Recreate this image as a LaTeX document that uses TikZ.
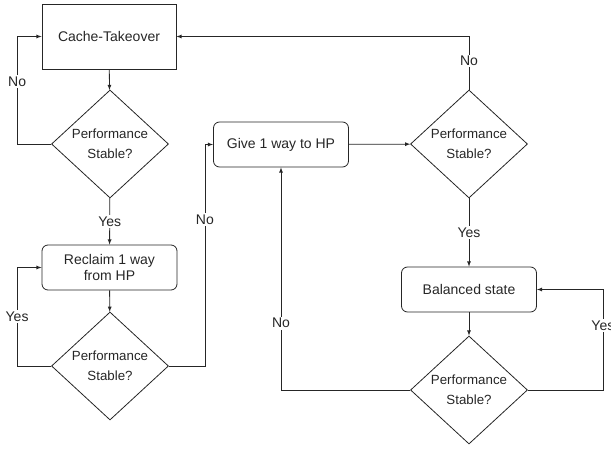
\documentclass[tikz,border=0pt]{standalone}
\usepackage{fontspec}
\setmainfont{Liberation Sans}
\usepackage{tikz}
\usetikzlibrary{shapes.geometric}

\begin{document}
\begin{tikzpicture}[x=1pt, y=-1pt, line width=0.8pt, black!85,
  font=\fontsize{14}{16}\selectfont,
  box/.style={draw, rectangle, minimum width=134pt, minimum height=65pt, align=center},
  rbox/.style={draw, rectangle, rounded corners=6pt, minimum width=135pt, minimum height=45pt, align=center},
  dec/.style={draw, diamond, inner sep=0pt, minimum width=117pt, minimum height=108pt, align=center,
    font=\fontsize{13.3}{20}\selectfont},
  lbl/.style={fill=white, inner sep=1.5pt},
  arr/.style={-latex}]
\useasboundingbox (0,0) rectangle (611,450);
\node[box] (cache) at (109,36.5) {Cache-Takeover};
\node[dec] (d1) at (110,144) {Performance\\Stable?};
\node[rbox] (reclaim) at (109.5,267.5) {Reclaim 1 way\\from HP};
\node[dec] (d2) at (110,366) {Performance\\Stable?};
\node[rbox] (give) at (281,144.5) {Give 1 way to HP};
\node[dec] (d3) at (469,144) {Performance\\Stable?};
\node[rbox] (bal) at (469,289.5) {Balanced state};
\node[dec] (d4) at (469,390) {Performance\\Stable?};
% left column
\draw[arr] (cache) -- (d1);
\draw[arr] (d1) -- (reclaim) node[lbl, midway] {Yes};
\draw[arr] (d1.west) -- ++(-34,0) |- (cache.west) node[lbl, pos=0.29] {No};
\draw[arr] (reclaim) -- (d2);
\draw[arr] (d2.west) -- ++(-34,0) |- (reclaim.west) node[lbl, pos=0.25] {Yes};
\draw[arr] (d2.east) -- ++(36,0) |- (give.west) node[lbl, pos=0.33] {No};
% right column
\draw[arr] (give) -- (d3);
\draw[arr] (d3.north) |- (cache.east) node[lbl, pos=0.27] {No};
\draw[arr] (d3) -- (bal) node[lbl, midway] {Yes};
\draw[arr] (bal) -- (d4);
\draw[arr] (d4.east) -- ++(75,0) |- (bal.east) node[lbl, pos=0.32] {Yes};
\draw[arr] (d4.west) -| (give.south) node[lbl, pos=0.65] {No};
\end{tikzpicture}
\end{document}
